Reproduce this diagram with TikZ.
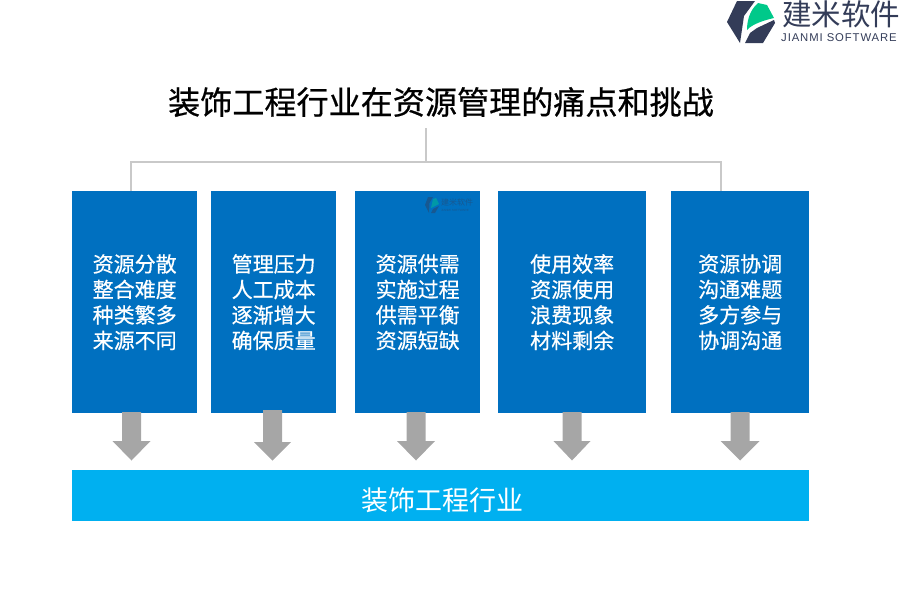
\documentclass[tikz,border=0pt]{standalone}
\usepackage{fontspec}
\setmainfont{Noto Sans CJK SC}
\newfontfamily\cjk{Noto Sans CJK SC}
\newfontfamily\cjkb[FakeBold=0.6]{Noto Sans CJK SC}
\newfontfamily\lat[LetterSpace=8]{Liberation Sans}
\newfontfamily\latsmall{Liberation Sans}
\definecolor{cardblue}{HTML}{0070C0}
\definecolor{bandblue}{HTML}{00B0F0}
\definecolor{linegray}{HTML}{C9C9C9}
\definecolor{arrowgray}{HTML}{A6A6A6}
\definecolor{navy}{HTML}{333C58}
\definecolor{logogreen}{HTML}{00C98A}
\tikzset{
 card/.style={fill=cardblue,draw=none,minimum height=222pt,anchor=north west,inner sep=0pt,text=white,font=\cjkb\fontsize{21}{25.5}\selectfont,align=center},
 band/.style={fill=bandblue,draw=none,anchor=north west,inner sep=0pt,text=white,font=\cjk\fontsize{27}{30}\selectfont,text height=29pt,text depth=0pt},
 trunk/.style={draw=linegray,line width=2pt},
 downarrow/.style={fill=arrowgray,draw=none}}
\begin{document}
\begin{tikzpicture}[x=1pt,y=-1pt]
\useasboundingbox (0,0) rectangle (900,600);
\node[anchor=center,font=\cjkb\fontsize{32.1}{36}\selectfont] (title) at (441,102) {装饰工程行业在资源管理的痛点和挑战};
\node[card,minimum width=125pt] (c1) at (72,191) {资源分散\\整合难度\\种类繁多\\来源不同};
\node[card,minimum width=125pt] (c2) at (211,191) {管理压力\\人工成本\\逐渐增大\\确保质量};
\node[card,minimum width=125pt] (c3) at (355,191) {资源供需\\实施过程\\供需平衡\\资源短缺};
\node[card,minimum width=148pt] (c4) at (498,191) {使用效率\\资源使用\\浪费现象\\材料剩余};
\node[card,minimum width=138pt] (c5) at (671,191) {资源协调\\沟通难题\\多方参与\\协调沟通};
\node[band,minimum width=737pt,minimum height=51pt] (b) at (72,470) {\hspace*{3pt}装饰工程行业};
\coordinate (t) at (426,128);
\coordinate (j) at (426,162);
\draw[trunk] (t) -- (j);
\draw[trunk] (c1.north -| 131,0) |- (j);
\draw[trunk] (c5.north -| 721,0) |- (j);
\foreach \x/\y/\h/\w in {131.5/412/441/19,272.5/410/442/18.5,416/412/441/19,572/412/441/18.5,740/412/441/19.5}
 \fill[downarrow] (\x-9.5,\y) -- (\x+9.5,\y) -- (\x+9.5,\h) -- (\x+\w,\h) -- (\x,460.5) -- (\x-\w,\h) -- (\x-9.5,\h) -- cycle;
% logo
\fill[navy] (737,1) -- (755,1) -- (744,16) -- (740,43) -- (727,22) -- cycle;
\fill[navy] (745,43) -- (763,43) -- (775,23) -- (774,20) -- (757,28) -- (750,33) -- cycle;
\fill[logogreen] (747,30) .. controls (747,20) and (750,10) .. (758,3) -- (767,5) -- (774,18) .. controls (765,20) and (752,24) .. (747,30) -- cycle;
\node[anchor=west,inner sep=0pt,font=\cjk\fontsize{29.5}{30}\selectfont,text=navy] (lg1) at (782,14) {建米软件};
\node[anchor=west,inner sep=0pt,font=\lat\fontsize{11.3}{12}\selectfont,text=navy] (lg2) at (781,38) {JIANMI SOFTWARE};
% watermark on the third card
\begin{scope}[opacity=0.45]
\fill[navy] (428,197) -- (433,197) -- (429.5,203) -- (429,213) -- (425,205) -- cycle;
\fill[navy] (431,213) -- (435,213) -- (439,206) -- (433,209) -- cycle;
\fill[logogreen] (431,208) -- (433,199) -- (436,198) -- (439,204) -- cycle;
\node[anchor=west,inner sep=0pt,font=\cjk\fontsize{8}{9}\selectfont,text=navy] (wm1) at (441,202) {建米软件};
\node[anchor=west,inner sep=0pt,font=\latsmall\fontsize{3}{4}\selectfont,text=navy] (wm2) at (441,210.5) {JIANMI SOFTWARE};
\end{scope}
\end{tikzpicture}
\end{document}
